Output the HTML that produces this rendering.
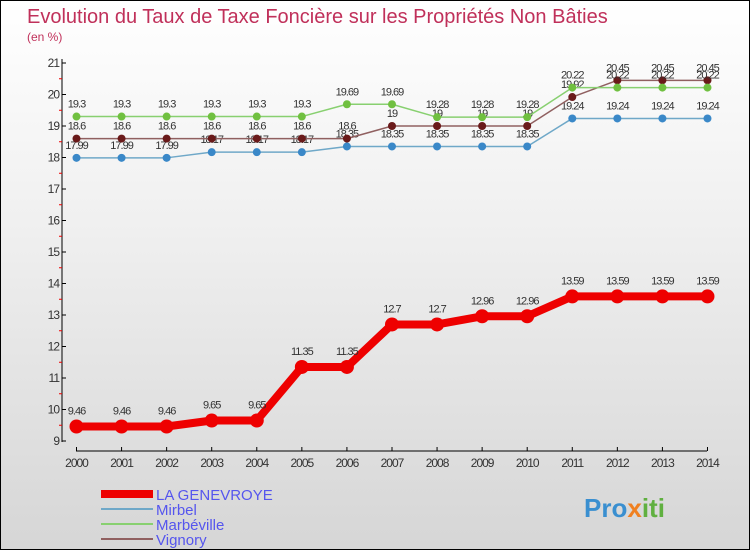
<!DOCTYPE html>
<html><head><meta charset="utf-8"><style>
body{margin:0;}
#c{position:relative;width:748px;height:548px;border:1px solid #000;background:linear-gradient(#ffffff,#f0f0f0 40%,#d6d6d6);overflow:hidden;font-family:"Liberation Sans",sans-serif;}
svg{position:absolute;left:0;top:0}
</style></head><body>
<div id="c">
<svg id="s" width="750" height="550">
<text x="26" y="22" font-size="20" fill="#c0305a">Evolution du Taux de Taxe Foncière sur les Propriétés Non Bâties</text>
<text x="26" y="40" font-size="12" fill="#c0305a">(en %)</text>
<g id="ax"></g><g id="series"></g>
<g>
<rect x="100" y="489" width="52" height="8" fill="#e00"/>
<text x="155" y="499" font-size="15" fill="#5555ee">LA GENEVROYE</text>
<rect x="100" y="507" width="52" height="2" fill="#6fa8c8"/>
<text x="155" y="514" font-size="15" fill="#5555ee">Mirbel</text>
<rect x="100" y="522" width="52" height="2" fill="#88d070"/>
<text x="155" y="529" font-size="15" fill="#5555ee">Marbéville</text>
<rect x="100" y="537" width="52" height="2" fill="#906060"/>
<text x="155" y="544" font-size="15" fill="#5555ee">Vignory</text>
</g>
<text x="583" y="516" font-size="26" font-weight="bold" fill="#3a8fd0">Pro<tspan fill="#f08020">x</tspan><tspan fill="#60b040">iti</tspan></text>
</svg></div>
<script>
const years=[2000,2001,2002,2003,2004,2005,2006,2007,2008,2009,2010,2011,2012,2013,2014];
const yTicks=[9,10,11,12,13,14,15,16,17,18,19,20,21];
const genevroye=[9.46,9.46,9.46,9.65,9.65,11.35,11.35,12.7,12.7,12.96,12.96,13.59,13.59,13.59,13.59];
const mirbel=[17.99,17.99,17.99,18.17,18.17,18.17,18.35,18.35,18.35,18.35,18.35,19.24,19.24,19.24,19.24];
const marbeville=[19.3,19.3,19.3,19.3,19.3,19.3,19.69,19.69,19.28,19.28,19.28,20.22,20.22,20.22,20.22];
const vignory=[18.6,18.6,18.6,18.6,18.6,18.6,18.6,19,19,19,19,19.92,20.45,20.45,20.45];
const NS="http://www.w3.org/2000/svg";
const X=i=>75.5+i*45.07, Y=v=>440-(v-9)*31.5;
function mk(t,a,p){const e=document.createElementNS(NS,t);for(const k in a)e.setAttribute(k,a[k]);p.appendChild(e);return e;}
const ax=document.getElementById('ax');
let l=mk('line',{x1:61,y1:58,x2:61,y2:441,stroke:'#000'},ax);


l=mk('line',{x1:75,y1:450,x2:706,y2:450,stroke:'#000'},ax);


yTicks.forEach(v=>{
 mk('line',{x1:61,y1:Y(v),x2:65,y2:Y(v),stroke:'#000'},ax);
 if(v<21)mk('line',{x1:58,y1:Y(v+0.5),x2:61,y2:Y(v+0.5),stroke:'#e00'},ax);
 const t=mk('text',{x:58,y:Y(v)+4,'font-size':12,'text-anchor':'end',fill:'#333','letter-spacing':'-1'},ax);
 t.textContent=v;
 
 
});
years.forEach((y,i)=>{
 mk('line',{x1:X(i),y1:446,x2:X(i),y2:450,stroke:'#000'},ax);
 const t=mk('text',{x:X(i),y:466,'font-size':12,'text-anchor':'middle',fill:'#333','letter-spacing':'-1'},ax);
 t.textContent=y;
 
 
});
const sg=document.getElementById('series');
function draw(data,name,col,dot,w,r,fs,dy){
 const g=mk('g',{},sg);
 
 
 const p=mk('polyline',{points:data.map((v,i)=>X(i)+','+Y(v)).join(' '),fill:'none',stroke:col,'stroke-width':w,'stroke-linejoin':'round'},g);
 
 
 data.forEach((v,i)=>{
  const c=mk('circle',{cx:X(i),cy:Y(v),r:r,fill:dot},g);
  
  
  const t=mk('text',{x:X(i),y:Y(v)+dy,'font-size':fs,'text-anchor':'middle',fill:'#333','letter-spacing':'-1'},g);
  t.textContent=v;
  
  
 });
}
draw(mirbel,'mirbel','#6fa8c8','#3a88c8',1.5,4,11,-9);
draw(vignory,'vignory','#906060','#6a1a1a',1.5,4,11,-9);
draw(marbeville,'marbeville','#88d070','#70c040',1.5,4,11,-9);
draw(genevroye,'la-genevroye','#e00','#e00',8,7,11,-12);
</script></body></html>
